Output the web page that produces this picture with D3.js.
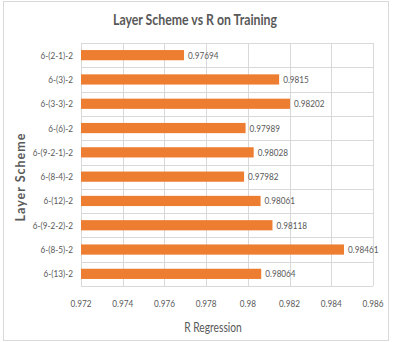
<!DOCTYPE html>
<html>
<head>
<meta charset="utf-8">
<script src="https://cdn.jsdelivr.net/npm/d3@7"></script>
<style>
	body { margin: 0; background: #fff; }
	svg text { font-family: Lato, "Noto Sans", sans-serif; fill: #595959; }
</style>
</head>
<body>
<div id="chart"></div>
<script>
// Data
var schemes = ['6-(2-1)-2', '6-(3)-2', '6-(3-3)-2', '6-(6)-2', '6-(9-2-1)-2',
	'6-(8-4)-2', '6-(12)-2', '6-(9-2-2)-2', '6-(8-5)-2', '6-(13)-2'];
var rValues = [0.97694, 0.9815, 0.98202, 0.97989, 0.98028,
	0.97982, 0.98061, 0.98118, 0.98461, 0.98064];
var xTicks = [0.972, 0.974, 0.976, 0.978, 0.98, 0.982, 0.984, 0.986];

var width = 394;
var height = 342;
var margins = { top: 43, right: 21, bottom: 56, left: 81 };
var chartWidth = width - margins.left - margins.right;
var chartHeight = height - margins.top - margins.bottom;

// the original picture is squeezed sideways, so text is narrowed too
var squeeze = 0.82;

var place = function(sel, fx, fy) {
	sel.attr('transform', function(d, i) {
		return 'translate(' + fx(d, i) + ',' + fy(d, i) + ') scale(' + squeeze + ',1)';
	});
};

var svg = d3.select('#chart')
	.append('svg')
	.attr('width', width)
	.attr('height', height);

// outer frame
svg.append('rect')
	.attr('x', 3.5)
	.attr('y', 1.5)
	.attr('width', 385)
	.attr('height', 339)
	.attr('fill', '#fff')
	.attr('stroke', '#d9d9d9');

var chart = svg.append('g')
	.attr('transform', 'translate(' + margins.left + ',' + margins.top + ')');

var xScale = d3.scaleLinear()
	.domain([0.972, 0.986])
	.range([0, chartWidth]);

var yScale = d3.scaleBand()
	.domain(schemes)
	.range([0, chartHeight])
	.paddingInner(0.58)
	.paddingOuter(0.29);

var bandStep = yScale.step();

// grid: vertical lines at ticks
chart.append('g')
	.attr('class', 'x grid')
	.selectAll('line')
	.data(xTicks)
	.enter()
	.append('line')
	.attr('x1', function(d) { return Math.round(xScale(d)) + 0.5; })
	.attr('x2', function(d) { return Math.round(xScale(d)) + 0.5; })
	.attr('y1', 0)
	.attr('y2', chartHeight)
	.attr('stroke', '#d9d9d9');

// grid: horizontal lines between categories
chart.append('g')
	.attr('class', 'y grid')
	.selectAll('line')
	.data(d3.range(schemes.length + 1))
	.enter()
	.append('line')
	.attr('x1', 0)
	.attr('x2', chartWidth)
	.attr('y1', function(i) { return Math.round(i * bandStep) + 0.5; })
	.attr('y2', function(i) { return Math.round(i * bandStep) + 0.5; })
	.attr('stroke', '#d9d9d9');

// bars
chart.append('g')
	.attr('class', 'bars')
	.selectAll('rect')
	.data(schemes)
	.enter()
	.append('rect')
	.attr('x', 0)
	.attr('y', function(d) { return yScale(d); })
	.attr('width', function(d, i) { return xScale(rValues[i]); })
	.attr('height', yScale.bandwidth())
	.attr('fill', '#ed7d31');

// value labels
chart.append('g')
	.attr('class', 'value')
	.selectAll('text')
	.data(schemes)
	.enter()
	.append('text')
	.call(place,
		function(d, i) { return xScale(rValues[i]) + 4; },
		function(d) { return yScale(d) + yScale.bandwidth() / 2; })
	.attr('dy', '0.35em')
	.attr('font-size', '10px')
	.text(function(d, i) { return String(rValues[i]); });

// category labels
chart.append('g')
	.attr('class', 'y axis')
	.selectAll('text')
	.data(schemes)
	.enter()
	.append('text')
	.call(place,
		function() { return -8; },
		function(d) { return yScale(d) + yScale.bandwidth() / 2; })
	.attr('dy', '0.35em')
	.attr('text-anchor', 'end')
	.attr('font-size', '10px')
	.text(function(d) { return d; });

// x tick labels
chart.append('g')
	.attr('class', 'x axis')
	.selectAll('text')
	.data(xTicks)
	.enter()
	.append('text')
	.call(place,
		function(d) { return xScale(d); },
		function() { return chartHeight + 17; })
	.attr('dy', '0.35em')
	.attr('text-anchor', 'middle')
	.attr('font-size', '10px')
	.text(function(d) { return String(d); });

// titles
svg.append('text')
	.datum('title')
	.call(place, function() { return 195; }, function() { return 20; })
	.attr('dy', '0.35em')
	.attr('text-anchor', 'middle')
	.attr('font-size', '15px')
	.attr('font-weight', 'bold')
	.text('Layer Scheme vs R on Training');

svg.append('text')
	.datum('xtitle')
	.call(place, function() { return 213; }, function() { return 328; })
	.attr('dy', '0.35em')
	.attr('text-anchor', 'middle')
	.attr('font-size', '12.5px')
	.text('R Regression');

svg.append('text')
	.attr('transform', 'translate(21,177) rotate(-90)')
	.attr('dy', '0.35em')
	.attr('text-anchor', 'middle')
	.attr('font-size', '12.5px')
	.attr('font-weight', 'bold')
	.attr('letter-spacing', '1px')
	.text('Layer Scheme');
</script>
</body>
</html>
